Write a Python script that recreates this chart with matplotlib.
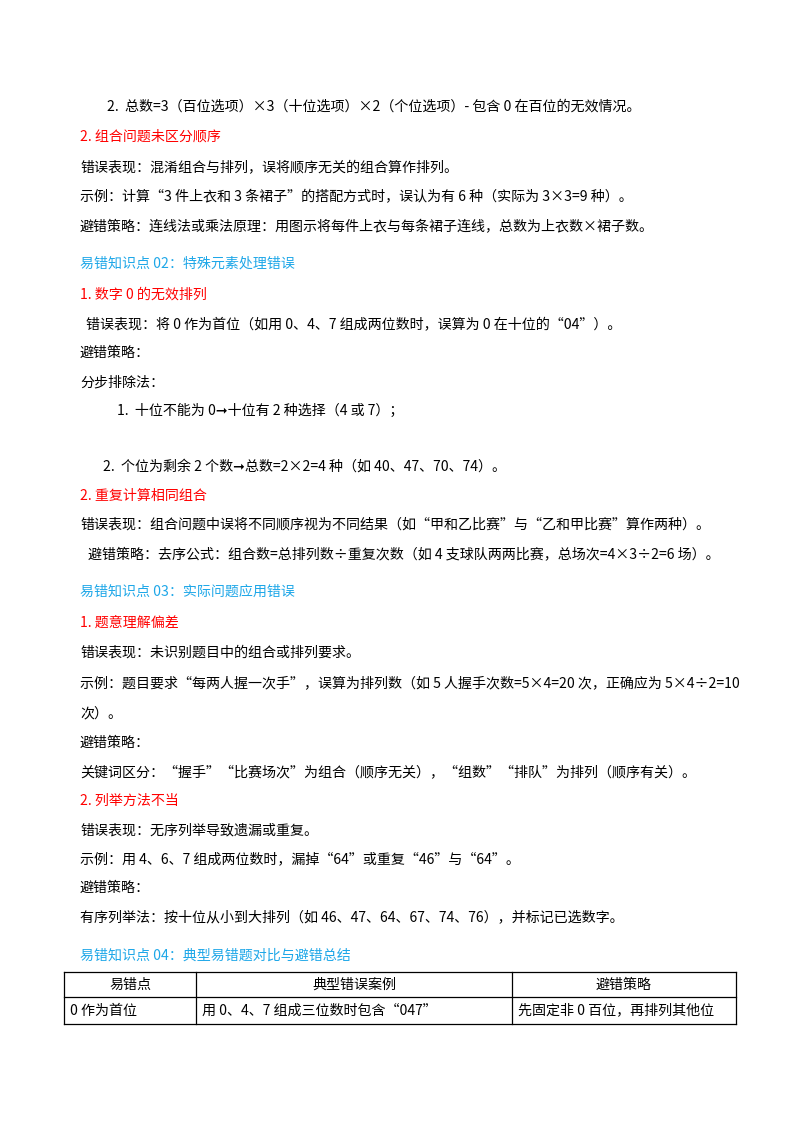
import matplotlib
matplotlib.use("Agg")
import matplotlib.pyplot as plt

plt.rcParams['font.family'] = ['Noto Sans CJK SC', 'DejaVu Sans']

BLACK, RED, BLUE = "#000000", "#FF0000", "#1EA7E8"
FS = 10.1

lines = [
    (107, 107, "2.  总数=3（百位选项）×3（十位选项）×2（个位选项）- 包含 0 在百位的无效情况。", BLACK),
    (80, 137, "2. 组合问题未区分顺序", RED),
    (80, 168, "错误表现：混淆组合与排列，误将顺序无关的组合算作排列。", BLACK),
    (80, 197, "示例：计算“3 件上衣和 3 条裙子”的搭配方式时，误认为有 6 种（实际为 3×3=9 种）。", BLACK),
    (80, 227, "避错策略：连线法或乘法原理：用图示将每件上衣与每条裙子连线，总数为上衣数×裙子数。", BLACK),
    (80, 264, "易错知识点 02：特殊元素处理错误", BLUE),
    (80, 295, "1. 数字 0 的无效排列", RED),
    (86, 325, "错误表现：将 0 作为首位（如用 0、4、7 组成两位数时，误算为 0 在十位的“04”）。", BLACK),
    (80, 353, "避错策略：", BLACK),
    (80, 382, "分步排除法：", BLACK),
    (117, 411, "1.  十位不能为 0➞十位有 2 种选择（4 或 7）；", BLACK),
    (103, 467, "2.  个位为剩余 2 个数➞总数=2×2=4 种（如 40、47、70、74）。", BLACK),
    (80, 496, "2. 重复计算相同组合", RED),
    (80, 525, "错误表现：组合问题中误将不同顺序视为不同结果（如“甲和乙比赛”与“乙和甲比赛”算作两种）。", BLACK),
    (88, 554, "避错策略：去序公式：组合数=总排列数÷重复次数（如 4 支球队两两比赛，总场次=4×3÷2=6 场）。", BLACK),
    (80, 592, "易错知识点 03：实际问题应用错误", BLUE),
    (80, 623, "1. 题意理解偏差", RED),
    (80, 653, "错误表现：未识别题目中的组合或排列要求。", BLACK),
    (80, 683, "示例：题目要求“每两人握一次手”，误算为排列数（如 5 人握手次数=5×4=20 次，正确应为 5×4÷2=10", BLACK),
    (80, 713, "次）。", BLACK),
    (80, 743, "避错策略：", BLACK),
    (80, 772, "关键词区分：“握手”“比赛场次”为组合（顺序无关），“组数”“排队”为排列（顺序有关）。", BLACK),
    (80, 801, "2. 列举方法不当", RED),
    (80, 830, "错误表现：无序列举导致遗漏或重复。", BLACK),
    (80, 859, "示例：用 4、6、7 组成两位数时，漏掉“64”或重复“46”与“64”。", BLACK),
    (80, 888, "避错策略：", BLACK),
    (80, 917, "有序列举法：按十位从小到大排列（如 46、47、64、67、74、76），并标记已选数字。", BLACK),
    (80, 956, "易错知识点 04：典型易错题对比与避错总结", BLUE),
]

header = ["易错点", "典型错误案例", "避错策略"]
row = ["0 作为首位", "用 0、4、7 组成三位数时包含“047”", "先固定非 0 百位，再排列其他位"]

W, H = 800, 1132
fig = plt.figure(figsize=(8, 11.32), dpi=100)
ax = fig.add_axes([0, 0, 1, 1])
ax.set_xlim(0, W); ax.set_ylim(H, 0); ax.axis("off")

for x, y, t, c in lines:
    ax.text(x, y, t, color=c, fontsize=FS, va="center", ha="left")

cols = [64, 196, 512, 736]
rows = [972, 997, 1024]
for y in rows:
    ax.plot([cols[0], cols[-1]], [y, y], color="black", lw=0.9)
for x in cols:
    ax.plot([x, x], [rows[0], rows[-1]], color="black", lw=0.9)
for i, h in enumerate(header):
    ax.text((cols[i] + cols[i+1]) / 2, (rows[0] + rows[1]) / 2, h, fontsize=FS, ha="center", va="center")
    ax.text(cols[i] + 6, (rows[1] + rows[2]) / 2, row[i], fontsize=FS, ha="left", va="center")

fig.savefig("out.png", dpi=100)
